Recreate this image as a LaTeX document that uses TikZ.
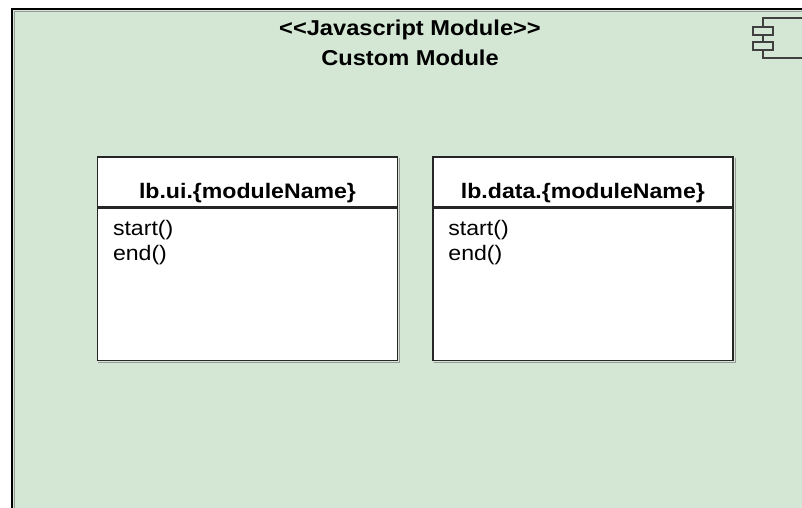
\documentclass[tikz,border=0pt]{standalone}
\usepackage{fontspec}
\setmainfont{Liberation Sans}[FakeStretch=1.1]
\usetikzlibrary{positioning, calc}
\definecolor{modgreen}{RGB}{212,231,212}
\newcommand{\umlfont}{\fontsize{21}{25}\selectfont}
\tikzset{
	classhead/.style={draw=black!85, line width=1.4pt, fill=white, minimum width=300pt, inner xsep=0pt, inner ysep=0pt, text height=41pt, text depth=9pt, font=\umlfont\bfseries},
	classbody/.style={draw=black!85, line width=1.4pt, fill=white, minimum width=300pt, minimum height=152pt, inner sep=0pt},
	methods/.style={align=left, inner sep=0pt, anchor=base west, font=\umlfont},
	shadowline/.style={black!40, line width=1pt},
	icon/.style={draw=black!75, line width=1.5pt},
}
\begin{document}
\begin{tikzpicture}[x=1pt, y=-1pt]
	\useasboundingbox (0,0) rectangle (802,507);
	\clip (0,0) rectangle (802,507);
	% module frame
	\draw [fill=modgreen, line width=2pt] (12,9) rectangle (830,530);
	\draw [shadowline] (14.5,530) |- (830,11.5);
	\node (stereo) [anchor=base, align=center, font=\fontsize{21.5}{30}\selectfont\bfseries] at (410,65) {<\kern0pt<Javascript Module>\kern0pt>\\Custom Module};
	% component icon
	\draw [icon] (763,18) rectangle (840,58);
	\draw [icon, fill=modgreen] (753,27) rectangle (773,35);
	\draw [icon, fill=modgreen] (753,42) rectangle (773,50);
	% classes
	\node (uihead) [classhead] at (247.5,182) {lb.ui.\{moduleName\}};
	\node (uibody) [classbody, below=0pt of uihead] {};
	\node (datahead) [classhead, right=34pt of uihead] {lb.data.\{moduleName\}};
	\node (databody) [classbody, below=0pt of datahead] {};
	\draw [shadowline] ($(uibody.south west)+(1.5,1.5)$) -| ($(uihead.north east)+(1.5,1.5)$);
	\draw [shadowline] ($(databody.south west)+(1.5,1.5)$) -| ($(datahead.north east)+(1.5,1.5)$);
	\node (uimethods) [methods] at ($(uibody.north west)+(16,53)$) {start()\\end()};
	\node (datamethods) [methods] at ($(databody.north west)+(16,53)$) {start()\\end()};
\end{tikzpicture}
\end{document}
